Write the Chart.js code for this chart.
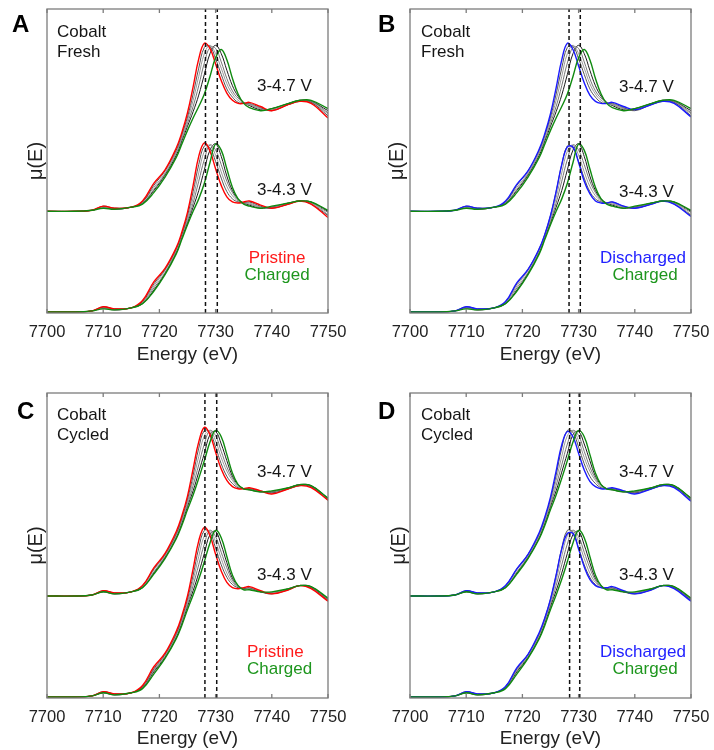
<!DOCTYPE html>
<html><head><meta charset="utf-8">
<script src="https://cdn.jsdelivr.net/npm/chart.js@4.4.1/dist/chart.umd.min.js"></script>
<style>
html,body{margin:0;padding:0;background:#fff;width:714px;height:750px;overflow:hidden;position:relative;}
.wrap{position:absolute;}
.t{position:absolute;font-family:"Liberation Sans",Arial,sans-serif;font-size:17px;line-height:1;white-space:nowrap;color:#151515;}
.c{transform:translateX(-50%);}
.lbl{position:absolute;font-family:"Liberation Sans",Arial,sans-serif;font-weight:bold;font-size:24px;line-height:1;color:#000;}
</style></head><body>
<script>
// ---------- data ----------
const energy = [7700,7705,7708,7710,7712,7715,7717,7719,7721,7723,7724,7725,7726,7727,7728,7729,7730,7731,7732,7733,7734,7735,7736,7738,7740,7743,7745,7747,7750];
const xTickValues = [7700,7710,7720,7730,7740,7750];
const stackOffset = 0.97;
const yMin = -0.01, yMax = 2.92;

// Fresh, 3-4.7 V
const freshHiPristine   = [0,0,0.01,0.05,0.03,0.04,0.10,0.27,0.40,0.61,0.76,0.95,1.20,1.47,1.62,1.57,1.42,1.26,1.14,1.07,1.04,1.04,1.05,1.01,0.97,1.03,1.06,1.04,0.90];
const freshHiDischarged = [0,0,0.01,0.05,0.03,0.04,0.10,0.26,0.39,0.60,0.75,0.94,1.19,1.46,1.62,1.56,1.40,1.24,1.12,1.06,1.04,1.04,1.05,1.01,0.98,1.03,1.06,1.04,0.91];
const freshHiCharged    = [0,0,0.01,0.03,0.02,0.04,0.07,0.18,0.33,0.52,0.65,0.78,0.90,1.01,1.13,1.30,1.48,1.56,1.46,1.28,1.13,1.04,1.00,0.97,0.99,1.04,1.07,1.07,0.99];
const freshHiMid1 = [0,0,0.01,0.05,0.03,0.04,0.09,0.25,0.39,0.59,0.74,0.91,1.13,1.38,1.58,1.59,1.47,1.32,1.18,1.10,1.05,1.04,1.04,1.00,0.97,1.03,1.06,1.05,0.92];
const freshHiMid2 = [0,0,0.01,0.04,0.03,0.04,0.09,0.23,0.37,0.57,0.72,0.88,1.07,1.30,1.52,1.60,1.52,1.38,1.23,1.13,1.07,1.04,1.03,0.99,0.98,1.03,1.06,1.05,0.94];
const freshHiMid3 = [0,0,0.01,0.04,0.02,0.04,0.08,0.21,0.36,0.56,0.70,0.85,1.01,1.21,1.43,1.58,1.57,1.44,1.28,1.16,1.09,1.05,1.03,0.99,0.98,1.04,1.07,1.06,0.95];
const freshHiMid4 = [0,0,0.01,0.04,0.02,0.04,0.08,0.20,0.35,0.54,0.68,0.82,0.96,1.12,1.32,1.52,1.60,1.52,1.36,1.21,1.11,1.05,1.02,0.98,0.99,1.04,1.07,1.06,0.97];

// Fresh, 3-4.3 V
const freshLoPristine   = [0,0,0.01,0.05,0.03,0.04,0.11,0.29,0.42,0.62,0.77,0.96,1.22,1.50,1.63,1.55,1.38,1.22,1.11,1.06,1.05,1.06,1.07,1.03,1.00,1.04,1.07,1.04,0.91];
const freshLoDischarged = [0,0,0.01,0.05,0.03,0.04,0.10,0.28,0.41,0.61,0.75,0.93,1.16,1.42,1.59,1.59,1.44,1.26,1.14,1.07,1.05,1.05,1.06,1.02,1.00,1.04,1.07,1.04,0.92];
const freshLoCharged    = [0,0,0.01,0.03,0.02,0.04,0.08,0.20,0.36,0.56,0.70,0.84,0.97,1.09,1.24,1.44,1.62,1.56,1.38,1.20,1.09,1.04,1.02,1.00,1.02,1.05,1.07,1.06,0.98];
const freshLoMid1 = [0,0,0.01,0.05,0.03,0.04,0.10,0.27,0.41,0.61,0.75,0.93,1.16,1.42,1.60,1.58,1.45,1.29,1.16,1.09,1.06,1.05,1.06,1.02,1.00,1.04,1.07,1.04,0.93];
const freshLoMid2 = [0,0,0.01,0.04,0.03,0.04,0.09,0.25,0.40,0.60,0.74,0.90,1.10,1.34,1.55,1.61,1.51,1.35,1.21,1.12,1.07,1.05,1.05,1.01,1.00,1.04,1.07,1.05,0.94];
const freshLoMid3 = [0,0,0.01,0.04,0.02,0.04,0.09,0.23,0.38,0.59,0.73,0.88,1.05,1.26,1.47,1.61,1.56,1.42,1.26,1.15,1.08,1.05,1.04,1.01,1.01,1.05,1.07,1.05,0.96];
const freshLoMid4 = [0,0,0.01,0.04,0.02,0.04,0.08,0.21,0.37,0.57,0.72,0.86,1.01,1.17,1.37,1.56,1.62,1.50,1.31,1.17,1.09,1.05,1.03,1.00,1.01,1.05,1.07,1.06,0.97];

// Cycled, 3-4.7 V
const cycHiPristine   = [0,0,0.01,0.05,0.03,0.04,0.10,0.27,0.41,0.62,0.77,0.96,1.22,1.48,1.62,1.55,1.38,1.22,1.11,1.05,1.03,1.03,1.04,1.01,0.98,1.03,1.06,1.04,0.92];
const cycHiDischarged = [0,0,0.01,0.05,0.03,0.04,0.10,0.26,0.40,0.61,0.76,0.95,1.20,1.45,1.58,1.53,1.37,1.21,1.10,1.05,1.03,1.03,1.04,1.01,0.98,1.03,1.06,1.04,0.91];
const cycHiCharged    = [0,0,0.01,0.04,0.02,0.04,0.08,0.21,0.36,0.55,0.68,0.83,0.97,1.13,1.30,1.48,1.59,1.53,1.36,1.18,1.07,1.03,1.02,1.00,1.01,1.04,1.07,1.06,0.94];
const cycHiMid1 = [0,0,0.01,0.05,0.03,0.04,0.10,0.26,0.40,0.60,0.75,0.93,1.16,1.42,1.59,1.57,1.43,1.27,1.15,1.08,1.04,1.03,1.03,1.01,0.99,1.03,1.06,1.05,0.92];
const cycHiMid2 = [0,0,0.01,0.05,0.03,0.04,0.09,0.25,0.39,0.59,0.73,0.90,1.11,1.34,1.54,1.59,1.49,1.33,1.20,1.11,1.05,1.03,1.03,1.00,0.99,1.03,1.06,1.05,0.93];
const cycHiMid3 = [0,0,0.01,0.04,0.02,0.04,0.09,0.23,0.38,0.58,0.72,0.88,1.06,1.26,1.46,1.59,1.54,1.39,1.24,1.13,1.06,1.03,1.03,1.00,1.00,1.04,1.07,1.05,0.93];
const cycHiMid4 = [0,0,0.01,0.04,0.02,0.04,0.08,0.22,0.37,0.56,0.70,0.86,1.01,1.19,1.37,1.55,1.58,1.46,1.30,1.15,1.07,1.03,1.02,1.00,1.00,1.04,1.07,1.06,0.94];

// Cycled, 3-4.3 V
const cycLoPristine   = [0,0,0.01,0.05,0.03,0.04,0.11,0.29,0.42,0.63,0.78,0.97,1.23,1.50,1.63,1.55,1.37,1.21,1.10,1.05,1.04,1.05,1.06,1.02,0.99,1.03,1.07,1.04,0.92];
const cycLoDischarged = [0,0,0.01,0.05,0.03,0.04,0.10,0.28,0.41,0.62,0.76,0.94,1.17,1.42,1.57,1.57,1.42,1.25,1.13,1.07,1.05,1.05,1.06,1.02,0.99,1.03,1.07,1.04,0.92];
const cycLoCharged    = [0,0,0.01,0.04,0.02,0.04,0.08,0.22,0.37,0.56,0.69,0.84,0.98,1.13,1.30,1.48,1.60,1.53,1.35,1.17,1.07,1.03,1.03,1.01,1.01,1.04,1.07,1.06,0.95];
const cycLoMid1 = [0,0,0.01,0.05,0.03,0.04,0.10,0.27,0.41,0.61,0.76,0.94,1.17,1.43,1.60,1.58,1.43,1.27,1.15,1.08,1.05,1.04,1.05,1.01,0.99,1.03,1.07,1.05,0.93];
const cycLoMid2 = [0,0,0.01,0.05,0.03,0.04,0.10,0.26,0.40,0.60,0.74,0.91,1.12,1.35,1.55,1.60,1.49,1.33,1.19,1.10,1.06,1.04,1.04,1.01,1.00,1.04,1.07,1.05,0.93];
const cycLoMid3 = [0,0,0.01,0.04,0.02,0.04,0.09,0.25,0.39,0.59,0.73,0.89,1.07,1.27,1.47,1.60,1.54,1.39,1.24,1.12,1.06,1.04,1.04,1.01,1.00,1.04,1.07,1.05,0.94];
const cycLoMid4 = [0,0,0.01,0.04,0.02,0.04,0.09,0.24,0.38,0.57,0.71,0.87,1.02,1.19,1.38,1.56,1.59,1.46,1.29,1.14,1.07,1.04,1.04,1.01,1.00,1.04,1.07,1.06,0.94];

// reference energies (dashed lines) per panel
const dashA = [7728.2, 7730.3];
const dashB = [7728.3, 7730.3];
const dashC = [7728.1, 7730.2];
const dashD = [7728.4, 7730.2];

// ---------- styling ----------
const FONT = '"Liberation Sans", Arial, sans-serif';
const RED = '#ff0000', BLUE = '#1a1aff', GREEN = '#0f8a0f';
const RED_T = '#ff1a1a', BLUE_T = '#2222ff', GREEN_T = '#1e961e';
const midColors = ['#555555', '#9a9a9a', '#777777', '#1a1a1a'];

const panels = [
  {letter:'A', left:0,   top:0,   padL:20, yw:27, padR:29, padT:9, xh:57, width:357, height:370,
   hi:{first:freshHiPristine, mids:[freshHiMid1,freshHiMid2,freshHiMid3,freshHiMid4], last:freshHiCharged},
   lo:{first:freshLoPristine, mids:[freshLoMid1,freshLoMid2,freshLoMid3,freshLoMid4], last:freshLoCharged},
   firstColor:RED, dashes:dashA},
  {letter:'B', left:357, top:0,   padL:24, yw:29, padR:23, padT:9, xh:57, width:357, height:370,
   hi:{first:freshHiDischarged, mids:[freshHiMid1,freshHiMid2,freshHiMid3,freshHiMid4], last:freshHiCharged},
   lo:{first:freshLoDischarged, mids:[freshLoMid1,freshLoMid2,freshLoMid3,freshLoMid4], last:freshLoCharged},
   firstColor:BLUE, dashes:dashB},
  {letter:'C', left:0,   top:384, padL:20, yw:27, padR:29, padT:9, xh:56, width:357, height:370,
   hi:{first:cycHiPristine, mids:[cycHiMid1,cycHiMid2,cycHiMid3,cycHiMid4], last:cycHiCharged},
   lo:{first:cycLoPristine, mids:[cycLoMid1,cycLoMid2,cycLoMid3,cycLoMid4], last:cycLoCharged},
   firstColor:RED, dashes:dashC},
  {letter:'D', left:357, top:384, padL:26, yw:27, padR:23, padT:9, xh:56, width:357, height:370,
   hi:{first:cycHiDischarged, mids:[cycHiMid1,cycHiMid2,cycHiMid3,cycHiMid4], last:cycHiCharged},
   lo:{first:cycLoDischarged, mids:[cycLoMid1,cycLoMid2,cycLoMid3,cycLoMid4], last:cycLoCharged},
   firstColor:BLUE, dashes:dashD}
];

const framePlugin = {
  id:'frame',
  afterDatasetsDraw(chart){
    const {ctx, chartArea:a, scales:{x}} = chart;
    ctx.save();
    ctx.strokeStyle = '#7c7c7c';
    ctx.lineWidth = 1.3;
    ctx.strokeRect(a.left, a.top, a.right - a.left, a.bottom - a.top);
    x.ticks.forEach(t => {
      const px = x.getPixelForValue(t.value);
      ctx.beginPath();
      ctx.moveTo(px, a.bottom); ctx.lineTo(px, a.bottom - 4);
      ctx.moveTo(px, a.top); ctx.lineTo(px, a.top + 4);
      ctx.stroke();
    });
    ctx.restore();
  }
};

function makeChart(p){
  const div = document.createElement('div');
  div.className = 'wrap';
  div.style.left = p.left + 'px'; div.style.top = p.top + 'px';
  div.style.width = p.width + 'px'; div.style.height = p.height + 'px';
  const cv = document.createElement('canvas');
  cv.width = p.width; cv.height = p.height;
  cv.style.width = p.width + 'px'; cv.style.height = p.height + 'px';
  div.appendChild(cv);
  document.body.appendChild(div);

  const pts = (arr, off) => energy.map((e, i) => ({x:e, y:arr[i] + off}));
  const datasets = [];
  p.dashes.forEach(d => datasets.push({
    data:[{x:d, y:yMin}, {x:d, y:yMax}], borderColor:'#111', borderWidth:1.5,
    borderDash:[4,3], tension:0, order:0
  }));
  [[p.hi, stackOffset], [p.lo, 0]].forEach(([g, off]) => {
    datasets.push({data:pts(g.last, off), borderColor:GREEN, borderWidth:1.4, order:1});
    datasets.push({data:pts(g.first, off), borderColor:p.firstColor, borderWidth:1.4, order:2});
    g.mids.forEach((m, k) => datasets.push({data:pts(m, off), borderColor:midColors[k], borderWidth:1, order:3}));
  });

  new Chart(cv, {
    type:'line',
    data:{datasets},
    options:{
      responsive:false, animation:false, devicePixelRatio:1,
      layout:{padding:{left:p.padL, right:p.padR, top:p.padT, bottom:0}},
      plugins:{legend:{display:false}, tooltip:{enabled:false}},
      elements:{point:{radius:0}, line:{tension:0.4, fill:false}},
      scales:{
        x:{
          type:'linear', min:7700, max:7750,
          afterBuildTicks:s => { s.ticks = xTickValues.map(v => ({value:v})); },
          afterFit:s => { s.height = p.xh; },
          grid:{display:false}, border:{display:false},
          ticks:{padding:2, autoSkip:false, maxRotation:0, color:'#222', font:{family:FONT, size:16.5},
                 callback:v => String(v)},
          title:{display:true, text:'Energy (eV)', color:'#222', font:{family:FONT, size:19}, padding:{top:0, bottom:4}}
        },
        y:{
          type:'linear', min:yMin, max:yMax,
          afterFit:s => { s.width = p.yw; },
          grid:{display:false}, border:{display:false},
          ticks:{display:false},
          title:{display:true, text:'μ(E)', color:'#222', font:{family:FONT, size:20}, padding:{top:4, bottom:0}}
        }
      }
    },
    plugins:[framePlugin]
  });
}
panels.forEach(makeChart);

// ---------- text annotations (page coords; y = baseline) ----------
const texts = [
  // A
  ['Cobalt', 57, 37, '#151515', 'l'], ['Fresh', 57, 57, '#151515', 'l'],
  ['3-4.7 V', 257, 91, '#151515', 'l'], ['3-4.3 V', 257, 195, '#151515', 'l'],
  ['Pristine', 277, 263, RED_T, 'c'], ['Charged', 277, 280, GREEN_T, 'c'],
  // B
  ['Cobalt', 421, 37, '#151515', 'l'], ['Fresh', 421, 57, '#151515', 'l'],
  ['3-4.7 V', 619, 92, '#151515', 'l'], ['3-4.3 V', 619, 197, '#151515', 'l'],
  ['Discharged', 643, 263, BLUE_T, 'c'], ['Charged', 645, 280, GREEN_T, 'c'],
  // C
  ['Cobalt', 57, 420, '#151515', 'l'], ['Cycled', 57, 440, '#151515', 'l'],
  ['3-4.7 V', 257, 477, '#151515', 'l'], ['3-4.3 V', 257, 580, '#151515', 'l'],
  ['Pristine', 247, 657, RED_T, 'l'], ['Charged', 247, 674, GREEN_T, 'l'],
  // D
  ['Cobalt', 421, 420, '#151515', 'l'], ['Cycled', 421, 440, '#151515', 'l'],
  ['3-4.7 V', 619, 477, '#151515', 'l'], ['3-4.3 V', 619, 580, '#151515', 'l'],
  ['Discharged', 643, 657, BLUE_T, 'c'], ['Charged', 645, 674, GREEN_T, 'c']
];
texts.forEach(([s, x, yb, col, al]) => {
  const d = document.createElement('div');
  d.className = 't' + (al === 'c' ? ' c' : '');
  d.textContent = s;
  d.style.left = x + 'px';
  d.style.top = (yb - 14.4) + 'px';
  d.style.color = col;
  document.body.appendChild(d);
});
const letters = [['A', 12, 32], ['B', 378, 32], ['C', 17, 419], ['D', 378, 419]];
letters.forEach(([s, x, yb]) => {
  const d = document.createElement('div');
  d.className = 'lbl';
  d.textContent = s;
  d.style.left = x + 'px';
  d.style.top = (yb - 20.3) + 'px';
  document.body.appendChild(d);
});
</script>
</body></html>
